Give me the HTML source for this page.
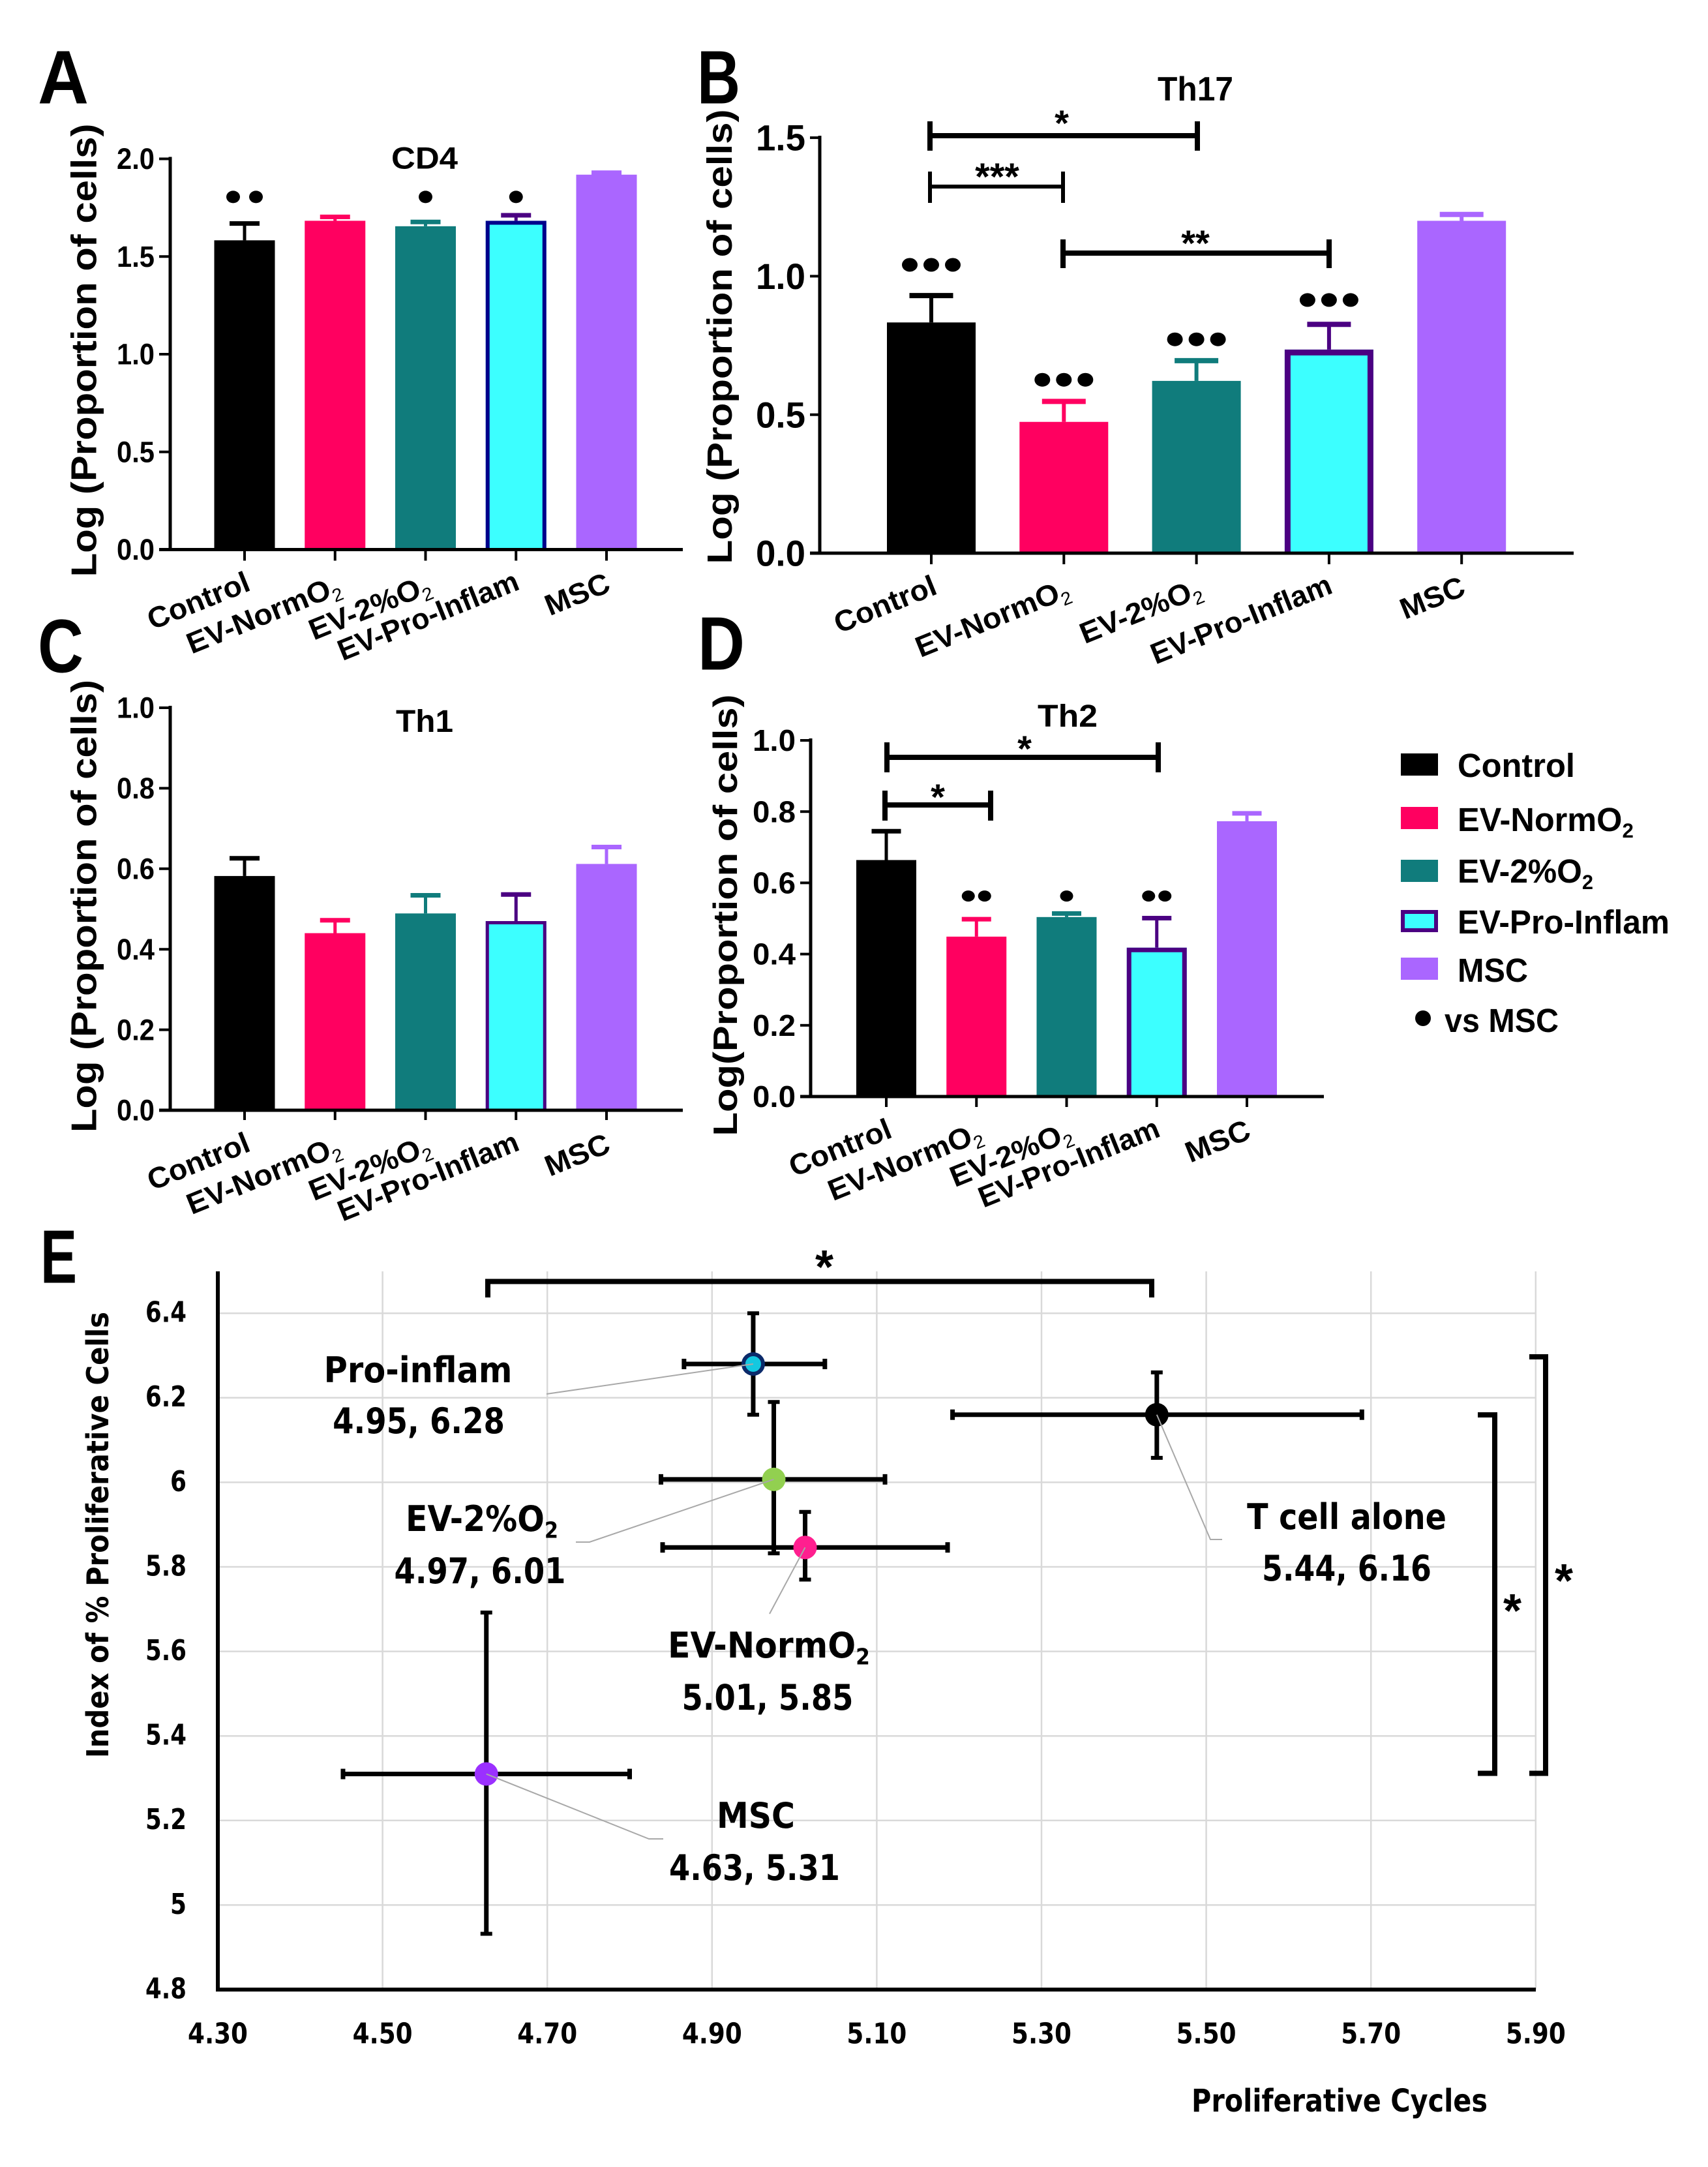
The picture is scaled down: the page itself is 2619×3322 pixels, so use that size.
<!DOCTYPE html>
<html>
<head>
<meta charset="utf-8">
<title>T cell proportion and proliferation charts</title>
<style>
html,body{margin:0;padding:0;background:#fff;}
svg{display:block;}
text{font-family:"Liberation Sans",sans-serif;font-weight:bold;fill:#000;}
</style>
</head>
<body>
<svg id="figure" xmlns="http://www.w3.org/2000/svg" width="2619" height="3322" viewBox="0 0 2619 3322"></svg>
<script>
const categories = ['Control', 'EV-NormO', 'EV-2%O', 'EV-Pro-Inflam', 'MSC'];
const categorySubs = ['', '2', '2', '', ''];

const cd4Means = [1.583, 1.683, 1.655, 1.683, 1.919];
const cd4Errors = [0.086, 0.02, 0.022, 0.028, 0.01];
const cd4Dots = [2, 0, 1, 1, 0];
const cd4DotLevels = [1.805, 0, 1.805, 1.805, 0];
const cd4Ticks = ['0.0', '0.5', '1.0', '1.5', '2.0'];

const th17Means = [0.833, 0.474, 0.622, 0.735, 1.2];
const th17Errors = [0.097, 0.074, 0.073, 0.091, 0.023];
const th17Dots = [3, 3, 3, 3, 0];
const th17DotLevels = [1.041, 0.626, 0.772, 0.914, 0];
const th17Ticks = ['0.0', '0.5', '1.0', '1.5'];

const th1Means = [0.582, 0.44, 0.489, 0.47, 0.612];
const th1Errors = [0.044, 0.032, 0.045, 0.066, 0.042];
const th1Dots = [0, 0, 0, 0, 0];
const th1DotLevels = [0, 0, 0, 0, 0];
const th1Ticks = ['0.0', '0.2', '0.4', '0.6', '0.8', '1.0'];

const th2Means = [0.664, 0.449, 0.504, 0.418, 0.773];
const th2Errors = [0.081, 0.049, 0.01, 0.083, 0.022];
const th2Dots = [0, 2, 1, 2, 0];
const th2DotLevels = [0, 0.563, 0.563, 0.563, 0];
const th2Ticks = ['0.0', '0.2', '0.4', '0.6', '0.8', '1.0'];

const scatterNames = ['t-cell-alone', 'ev-normo2', 'ev-2pct-o2', 'pro-inflam', 'msc'];
const cyclesMean = [5.44, 5.013, 4.975, 4.95, 4.626];
const cyclesLow = [5.192, 4.84, 4.838, 4.866, 4.452];
const cyclesHigh = [5.689, 5.186, 5.11, 5.037, 4.80];
const indexMean = [6.16, 5.846, 6.007, 6.28, 5.31];
const indexLow = [6.058, 5.77, 5.832, 6.16, 4.932];
const indexHigh = [6.26, 5.93, 6.19, 6.40, 5.692];
const cycleTicks = ['4.30', '4.50', '4.70', '4.90', '5.10', '5.30', '5.50', '5.70', '5.90'];
const indexTicks = ['4.8', '5', '5.2', '5.4', '5.6', '5.8', '6', '6.2', '6.4'];

const barColors = ['#000000', '#ff0060', '#107c7c', '#3cffff', '#aa66ff'];
const errColors = ['#000000', '#ff0060', '#107c7c', '#4b0082', '#aa66ff'];
const NS = 'http://www.w3.org/2000/svg';
const root = document.getElementById('figure');
const TAHOMA_LIKE = '"DejaVu Sans","Liberation Sans",sans-serif';

function mk(parent, tag, attrs, name) {
  const el = document.createElementNS(NS, tag);
  for (const k in attrs) el.setAttribute(k, attrs[k]);
  
  
  parent.appendChild(el);
  return el;
}
function line(parent, x1, y1, x2, y2, stroke, w, name) {
  return mk(parent, 'line', {x1: x1, y1: y1, x2: x2, y2: y2, stroke: stroke, 'stroke-width': w}, name);
}
/* Text centred vertically on y; horizontally fitted to width w through a scale */
function label(parent, o) {
  const el = mk(parent, 'text', {'font-size': o.size, 'text-anchor': o.anchor || 'middle', y: (o.size * 0.35).toFixed(1), x: 0}, o.name);
  if (o.font) el.style.fontFamily = o.font;
  el.appendChild(document.createTextNode(o.text));
  if (o.sub) {
    const s = document.createElementNS(NS, 'tspan');
    s.setAttribute('font-size', o.size * 0.62);
    s.setAttribute('dy', o.size * 0.2);
    if (o.thinSub) { s.setAttribute('font-weight', 'normal'); s.style.fontWeight = 'normal'; }
    s.textContent = o.sub;
    el.appendChild(s);
  }
  const len = el.getComputedTextLength();
  const sx = o.w && len ? o.w / len : 1;
  el.setAttribute('transform', 'translate(' + o.x + ',' + o.y + ') rotate(' + (o.rot || 0) + ') scale(' + sx.toFixed(3) + ',1)');
  return el;
}
function star(parent, cx, cy, count, size, name) {
  const el = mk(parent, 'text', {x: cx, y: cy + size * 0.5, 'font-size': size, 'text-anchor': 'middle'}, name);
  el.textContent = '*'.repeat(count);
  return el;
}
function bracket(parent, x1, x2, y, top, bottom, w, name) {
  const g = mk(parent, 'g', {}, name);
  line(g, x1, y, x2, y, '#000', w, name + '-bar');
  line(g, x1, top, x1, bottom, '#000', w, name + '-left-end');
  line(g, x2, top, x2, bottom, '#000', w, name + '-right-end');
  return g;
}

const labelDx = [-71, -110, -86, -135, -45];
const labelDy = [78, 99, 88, 101, 68];
const labelW = [165, 250, 197, 295, 103];

function barPanel(c) {
  const g = mk(root, 'g', {}, c.name);
  const y = v => c.y0 - v * c.pxPerUnit;
  const x = i => c.x0 + i * c.step;
  c.means.forEach((m, i) => {
    const hollow = i === 3;
    const barTop = y(m);
    const cap = y(m + c.errors[i]);
    line(g, x(i), barTop, x(i), cap, errColors[i], c.errStem, 'error-stem-' + i);
    line(g, x(i) - c.capW / 2, cap, x(i) + c.capW / 2, cap, errColors[i], c.capH, 'error-cap-' + i);
    mk(g, 'rect', {x: x(i) - c.barW / 2, y: barTop, width: c.barW, height: c.y0 - barTop, fill: barColors[i]}, 'bar-' + i);
    if (hollow) {
      const h = c.outline / 2, l = x(i) - c.barW / 2 + h, r = x(i) + c.barW / 2 - h, t = barTop + h;
      mk(g, 'polyline', {points: l + ',' + c.y0 + ' ' + l + ',' + t + ' ' + r + ',' + t + ' ' + r + ',' + c.y0,
        fill: 'none', stroke: c.outlineColor, 'stroke-width': c.outline}, 'bar-outline');
    }
    for (let d = 0; d < c.dots[i]; d++) {
      const dx = (d - (c.dots[i] - 1) / 2) * c.dotGap;
      mk(g, 'ellipse', {cx: x(i) + dx, cy: y(c.dotLevels[i]), rx: c.dotRx, ry: c.dotRy, fill: '#000'}, 'significance-dot');
    }
    line(g, x(i), c.y0, x(i), c.y0 + c.tickLen, '#000', c.tickW, 'x-tick-' + i);
    label(g, {x: x(i) + labelDx[i], y: c.y0 + labelDy[i], text: categories[i], sub: categorySubs[i], thinSub: true,
      size: c.catSize, w: labelW[i], rot: -22, name: 'x-label-' + i});
  });
  line(g, c.axisX, c.y0, c.axisX, y(c.maxV) - 3, '#000', c.axisW, 'y-axis');
  line(g, c.axisX - c.yTickLen, c.y0, c.xEnd, c.y0, '#000', c.axisW, 'x-axis');
  c.ticks.forEach(t => {
    const v = parseFloat(t);
    line(g, c.axisX - c.yTickLen, y(v), c.axisX, y(v), '#000', c.tickW, 'y-tick');
    label(g, {x: c.axisX - c.yTickLen - 7, y: y(v), text: t, size: c.tickSize, anchor: 'end', w: c.tickTextW, name: 'y-tick-label'});
  });
  label(g, {x: c.titleX, y: c.titleY, text: c.title, size: c.titleSize, w: c.titleW, name: 'chart-title'});
  label(g, {x: c.yTitleX, y: c.yTitleY, text: c.yTitle, size: c.yTitleSize, w: c.yTitleW, rot: -90, name: 'y-axis-title'});
  return g;
}

barPanel({name: 'panel-a-cd4', means: cd4Means, errors: cd4Errors, dots: cd4Dots, dotLevels: cd4DotLevels, ticks: cd4Ticks, maxV: 2,
  axisX: 261, xEnd: 1047, y0: 842.5, pxPerUnit: 299.5, x0: 375, step: 138.75, barW: 93, capW: 46, capH: 7, errStem: 5,
  outline: 6, outlineColor: '#00008b', axisW: 5, tickW: 4, tickLen: 17, yTickLen: 17, tickSize: 45, tickTextW: 58, catSize: 45,
  dotGap: 35, dotRx: 10.5, dotRy: 9.5, title: 'CD4', titleX: 651, titleY: 242, titleSize: 47, titleW: 102,
  yTitle: 'Log (Proportion of cells)', yTitleX: 128, yTitleY: 537, yTitleSize: 55, yTitleW: 695});

barPanel({name: 'panel-b-th17', means: th17Means, errors: th17Errors, dots: th17Dots, dotLevels: th17DotLevels, ticks: th17Ticks, maxV: 1.5,
  axisX: 1257, xEnd: 2413, y0: 848, pxPerUnit: 424.6, x0: 1428, step: 203.3, barW: 136, capW: 67, capH: 8, errStem: 6,
  outline: 9, outlineColor: '#4b0082', axisW: 5, tickW: 4, tickLen: 17, yTickLen: 15, tickSize: 56, tickTextW: 76, catSize: 45,
  dotGap: 33, dotRx: 12, dotRy: 10.5, title: 'Th17', titleX: 1833, titleY: 136, titleSize: 52, titleW: 116,
  yTitle: 'Log (Proportion of cells)', yTitleX: 1103, yTitleY: 516, yTitleSize: 54, yTitleW: 697});

barPanel({name: 'panel-c-th1', means: th1Means, errors: th1Errors, dots: th1Dots, dotLevels: th1DotLevels, ticks: th1Ticks, maxV: 1,
  axisX: 261, xEnd: 1047, y0: 1702, pxPerUnit: 617, x0: 375, step: 138.75, barW: 93, capW: 46, capH: 7, errStem: 5,
  outline: 5, outlineColor: '#4b0082', axisW: 5, tickW: 4, tickLen: 15, yTickLen: 17, tickSize: 45, tickTextW: 58, catSize: 45,
  dotGap: 0, dotRx: 0, dotRy: 0, title: 'Th1', titleX: 651, titleY: 1105, titleSize: 48, titleW: 88,
  yTitle: 'Log (Proportion of cells)', yTitleX: 128, yTitleY: 1389, yTitleSize: 55, yTitleW: 694});

barPanel({name: 'panel-d-th2', means: th2Means, errors: th2Errors, dots: th2Dots, dotLevels: th2DotLevels, ticks: th2Ticks, maxV: 1,
  axisX: 1243, xEnd: 2030, y0: 1681, pxPerUnit: 546, x0: 1359, step: 138.25, barW: 92, capW: 45, capH: 7, errStem: 5,
  outline: 7, outlineColor: '#4b0082', axisW: 5, tickW: 4, tickLen: 16, yTickLen: 16, tickSize: 46, tickTextW: 66, catSize: 45,
  dotGap: 25, dotRx: 10, dotRy: 8.5, title: 'Th2', titleX: 1637, titleY: 1097, titleSize: 48, titleW: 92,
  yTitle: 'Log(Proportion of cells)', yTitleX: 1112, yTitleY: 1403, yTitleSize: 52, yTitleW: 677});

/* Panel letters */
label(root, {x: 97, y: 118, text: 'A', size: 116, w: 78, name: 'panel-letter-a'});
label(root, {x: 1102, y: 118, text: 'B', size: 116, w: 66, name: 'panel-letter-b'});
label(root, {x: 93, y: 990, text: 'C', size: 116, w: 70, name: 'panel-letter-c'});
label(root, {x: 1106, y: 986, text: 'D', size: 116, w: 72, name: 'panel-letter-d'});
label(root, {x: 90, y: 1926, text: 'E', size: 116, w: 56, name: 'panel-letter-e'});

/* Significance brackets, panels B and D */
bracket(root, 1426, 1836, 208, 186, 231, 8, 'bracket-control-vs-2pct');
star(root, 1628, 180, 1, 56, 'bracket-star');
bracket(root, 1426, 1630, 286, 263, 311, 6, 'bracket-control-vs-normo2');
star(root, 1529, 262, 3, 58, 'bracket-star');
bracket(root, 1630, 2038, 388, 367, 411, 8, 'bracket-normo2-vs-pro-inflam');
star(root, 1833, 364, 2, 56, 'bracket-star');
bracket(root, 1360, 1776, 1161, 1138, 1184, 8, 'bracket-control-vs-pro-inflam');
star(root, 1571, 1139, 1, 56, 'bracket-star');
bracket(root, 1357, 1519, 1234, 1212, 1258, 8, 'bracket-control-vs-normo2-th2');
star(root, 1438, 1213, 1, 56, 'bracket-star');

/* Legend */
const legendG = mk(root, 'g', {}, 'legend');
[[1172, 1173, 180], [1254, 1256, 270], [1335, 1335, 208], [1412, 1413, 325], [1485, 1487, 108]].forEach((row, i) => {
  const isPro = i === 3;
  const attrs = {x: isPro ? 2151 : 2148, y: row[0] - (isPro ? 14 : 17), width: isPro ? 51 : 57, height: isPro ? 28 : 34, fill: barColors[i]};
  if (isPro) { attrs.stroke = '#4b0082'; attrs['stroke-width'] = 6; }
  mk(legendG, 'rect', attrs, 'legend-swatch-' + i);
  label(legendG, {x: 2235, y: row[1], text: categories[i], sub: categorySubs[i], size: 51, anchor: 'start', w: row[2], name: 'legend-label-' + i});
});
mk(legendG, 'ellipse', {cx: 2182, cy: 1561, rx: 12, ry: 12, fill: '#000'}, 'legend-dot');
label(legendG, {x: 2215, y: 1564, text: 'vs MSC', size: 51, anchor: 'start', w: 175, name: 'legend-label-vs-msc'});

/* Panel E scatter */
const gE = mk(root, 'g', {}, 'panel-e-scatter');
const ex = v => 334 + (v - 4.3) * 1263;
const ey = v => 3050 - (v - 4.8) * 648;
cycleTicks.forEach(t => {
  const v = parseFloat(t);
  if (v > 4.3) line(gE, ex(v), 1949, ex(v), 3050, '#d9d9d9', 2.5, 'x-gridline');
  label(gE, {x: ex(v), y: 3117, text: t, size: 44, w: 92, font: TAHOMA_LIKE, name: 'x-tick-label'});
});
indexTicks.forEach(t => {
  const v = parseFloat(t);
  if (v > 4.8) line(gE, 334, ey(v), 2355, ey(v), '#d9d9d9', 2.5, 'y-gridline');
  label(gE, {x: 286, y: ey(v) - 2, text: t, size: 44, anchor: 'end', w: t.length > 1 ? 63 : 25, font: TAHOMA_LIKE, name: 'y-tick-label'});
});
line(gE, 334, 1949, 334, 3053, '#000', 6, 'y-axis');
line(gE, 331, 3050, 2355, 3050, '#000', 6, 'x-axis');

const pointFill = ['#000000', '#ff1f8f', '#92d050', '#14c8e0', '#9b30ff'];
cyclesMean.forEach((m, i) => {
  const g = mk(gE, 'g', {}, 'point-group-' + scatterNames[i]);
  const px = ex(m), py = ey(indexMean[i]);
  line(g, ex(cyclesLow[i]), py, ex(cyclesHigh[i]), py, '#000', 7, 'x-error-bar');
  line(g, ex(cyclesLow[i]), py - 8, ex(cyclesLow[i]), py + 8, '#000', 7, 'x-error-cap');
  line(g, ex(cyclesHigh[i]), py - 8, ex(cyclesHigh[i]), py + 8, '#000', 7, 'x-error-cap');
  line(g, px, ey(indexLow[i]), px, ey(indexHigh[i]), '#000', 7, 'y-error-bar');
  line(g, px - 9, ey(indexLow[i]), px + 9, ey(indexLow[i]), '#000', 6, 'y-error-cap');
  line(g, px - 9, ey(indexHigh[i]), px + 9, ey(indexHigh[i]), '#000', 6, 'y-error-cap');
});

/* Leader lines go from each marker to its annotation */
function leader(i, points) {
  const start = ex(cyclesMean[i]) + ',' + ey(indexMean[i]);
  mk(gE, 'polyline', {points: start + ' ' + points, fill: 'none', stroke: '#a8a8a8', 'stroke-width': 2}, 'leader-line-' + scatterNames[i]);
}
cyclesMean.forEach((m, i) => {
  const attrs = {cx: ex(m), cy: ey(indexMean[i]), r: 18, fill: pointFill[i]};
  if (i === 3) { attrs.r = 15; attrs.stroke = '#0b2a6a'; attrs['stroke-width'] = 6; }
  mk(gE, 'circle', attrs, 'point-' + scatterNames[i]);
});
leader(0, '1856,2360 1874,2360');
leader(1, '1180,2474');
leader(2, '904,2364 883,2364');
leader(3, '838,2137');
leader(4, '995,2819 1017,2819');

[
  ['Pro-inflam', '', 641, 2100, 289], ['4.95, 6.28', '', 642, 2178, 264],
  ['EV-2%O', '2', 739, 2328, 234], ['4.97, 6.01', '', 736, 2408, 263],
  ['EV-NormO', '2', 1179, 2522, 310], ['5.01, 5.85', '', 1177, 2602, 263],
  ['MSC', '', 1159, 2783, 120], ['4.63, 5.31', '', 1157, 2863, 262],
  ['T cell alone', '', 2065, 2325, 306], ['5.44, 6.16', '', 2065, 2404, 260]
].forEach(a => {
  label(gE, {x: a[2], y: a[3], text: a[0], sub: a[1], size: 54, w: a[4], font: TAHOMA_LIKE, name: 'point-annotation'});
});

label(gE, {x: 150, y: 2353, text: 'Index of % Proliferative Cells', size: 46, w: 684, rot: -90, font: TAHOMA_LIKE, name: 'y-axis-title'});
label(gE, {x: 2054, y: 3220, text: 'Proliferative Cycles', size: 48, w: 454, font: TAHOMA_LIKE, name: 'x-axis-title'});

/* Panel E brackets */
mk(gE, 'polyline', {points: '748,1989 748,1964.5 1766,1964.5 1766,1989', fill: 'none', stroke: '#000', 'stroke-width': 8}, 'bracket-msc-vs-t-cell-x');
star(gE, 1264, 1931, 1, 72, 'bracket-star');
mk(gE, 'polyline', {points: '2266,2169 2292,2169 2292,2718.5 2266,2718.5', fill: 'none', stroke: '#000', 'stroke-width': 8}, 'bracket-msc-vs-t-cell-y');
star(gE, 2319, 2458, 1, 72, 'bracket-star');
mk(gE, 'polyline', {points: '2345,2080 2370,2080 2370,2718.5 2345,2718.5', fill: 'none', stroke: '#000', 'stroke-width': 8}, 'bracket-msc-vs-pro-inflam-y');
star(gE, 2398, 2412, 1, 72, 'bracket-star');
</script>
</body>
</html>
